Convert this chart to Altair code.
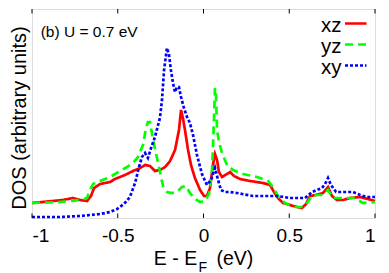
import altair as alt
import pandas as pd

# Energy (eV) and DOS (arbitrary units)
XZ_E = [-1.0, -0.819, -0.761, -0.72, -0.679, -0.656, -0.638, -0.603, -0.545, -0.516, -0.458, -0.411,
        -0.37, -0.341, -0.312, -0.283, -0.254, -0.224, -0.195, -0.166, -0.143, -0.131, -0.12, -0.108,
        -0.09, -0.073, -0.05, -0.02, 0.003, 0.02, 0.038, 0.055, 0.067, 0.079, 0.09, 0.108, 0.137,
        0.155, 0.178, 0.213, 0.271, 0.347, 0.388, 0.411, 0.434, 0.464, 0.504, 0.545, 0.574, 0.598,
        0.621, 0.656, 0.697, 0.726, 0.749, 0.778, 0.813, 0.854, 0.913, 0.959, 1.0]
XZ_D = [15, 18, 20, 18, 17, 22, 30, 34, 36, 39, 43, 47,
        50, 53, 52, 47, 48, 51, 57, 68, 88, 108, 100, 88,
        68, 53, 40, 28, 22, 22, 30, 53, 64, 58, 46, 41, 44,
        46, 42, 39, 37, 35, 33, 26, 20, 15, 13, 11, 10, 14,
        22, 23, 25, 31, 22, 18, 18, 20, 21, 19, 17]

YZ_E = [-1.0, -0.837, -0.72, -0.679, -0.662, -0.644, -0.603, -0.545, -0.487, -0.446, -0.411, -0.382,
        -0.353, -0.335, -0.324, -0.312, -0.294, -0.265, -0.236, -0.213, -0.184, -0.155, -0.125,
        -0.102, -0.079, -0.05, -0.02, 0.009, 0.032, 0.05, 0.061, 0.067, 0.073, 0.079, 0.09, 0.108,
        0.137, 0.172, 0.23, 0.312, 0.376, 0.405, 0.434, 0.475, 0.534, 0.58, 0.609, 0.633, 0.697,
        0.726, 0.755, 0.825, 0.883, 0.93, 1.0]
YZ_D = [15, 16, 18, 20, 28, 34, 37, 41, 47, 51, 55, 61,
        73, 90, 96, 96, 78, 55, 32, 26, 25, 26, 31,
        32, 25, 19, 16, 17, 24, 48, 98, 130, 123, 88, 76, 65,
        53, 48, 44, 41, 37, 31, 22, 15, 11, 11, 16, 23, 23,
        28, 20, 20, 20, 15, 16]

XY_E = [-1.0, -0.837, -0.72, -0.603, -0.545, -0.504, -0.464, -0.429, -0.399, -0.376, -0.359, -0.341,
        -0.324, -0.306, -0.283, -0.265, -0.254, -0.242, -0.23, -0.213, -0.201, -0.19, -0.178, -0.166,
        -0.155, -0.143, -0.131, -0.114, -0.096, -0.079, -0.061, -0.038, -0.009, 0.02, 0.044, 0.067,
        0.085, 0.102, 0.125, 0.155, 0.195, 0.289, 0.429, 0.504, 0.592, 0.633, 0.691, 0.709, 0.726,
        0.743, 0.773, 0.837, 0.872, 0.913, 0.954, 1.0]
XY_D = [1, 1, 2, 4, 6, 9, 14, 21, 35, 51, 61, 65,
        60, 70, 81, 93, 100, 118, 148, 170, 163, 148, 135, 126,
        131, 131, 121, 110, 101, 95, 83, 63, 44, 33, 38, 50,
        38, 28, 26, 26, 25, 22, 22, 20, 20, 26, 30, 34, 40,
        33, 26, 26, 26, 23, 21, 21]

SERIES = ["xz", "yz", "xy"]
COLORS = ["#ff0000", "#00ff00", "#0000ff"]
DASHES = [[1, 0], [8, 5], [3, 2]]
XTICKS = [-1, -0.5, 0, 0.5, 1]

frames = []
for name, es, ds in zip(SERIES, [XZ_E, YZ_E, XY_E], [XZ_D, YZ_D, XY_D]):
    frames.append(pd.DataFrame({"E": es, "DOS": ds, "orbital": name}))
df = pd.concat(frames, ignore_index=True)

W, H = 343, 209
FONT = "Liberation Sans"

xscale = alt.Scale(domain=[-1, 1], nice=False, zero=False)
yscale = alt.Scale(domain=[0, 209], nice=False, zero=False)

base = alt.Chart(df)

layers = []
for i, name in enumerate(SERIES):
    layers.append(
        base.transform_filter(alt.datum.orbital == name)
        .mark_line(color=COLORS[i], strokeDash=DASHES[i], strokeWidth=2.7, strokeCap="butt",
                   interpolate="linear")
        .encode(
            x=alt.X("E:Q", scale=xscale,
                    axis=alt.Axis(values=XTICKS, tickSize=0, domain=False, grid=False,
                                  labelFontSize=19, labelPadding=8, labelColor="black",
                                  labelFont=FONT,
                                  labelExpr="(datum.value < 0 ? '-' : '') + format(abs(datum.value), '~g')",
                                  title=None)),
            y=alt.Y("DOS:Q", scale=yscale,
                    axis=alt.Axis(labels=False, ticks=False, domain=False, grid=False,
                                  title="DOS (arbitrary units)", titleFontSize=20,
                                  titleFont=FONT, titleFontWeight="normal", titleColor="black",
                                  titleAngle=270, titleX=-7, titleY=108.5,
                                  titleAlign="center", titleBaseline="alphabetic")),
        )
    )

ticks_df = pd.DataFrame({"t": XTICKS})
tick_bottom = alt.Chart(ticks_df).mark_rule(color="black", strokeWidth=1).encode(
    x=alt.X("t:Q", scale=xscale), y=alt.value(H), y2=alt.value(H - 4.5))
tick_top = alt.Chart(ticks_df).mark_rule(color="black", strokeWidth=1).encode(
    x=alt.X("t:Q", scale=xscale), y=alt.value(0), y2=alt.value(4.5))

# legend (text left of the line sample)
LEG_Y = [14.5, 35.5, 56.5]
leg_layers = []
for i, name in enumerate(SERIES):
    d = pd.DataFrame({"label": [name]})
    leg_layers.append(
        alt.Chart(d).mark_text(align="right", baseline="alphabetic", fontSize=20.5, font=FONT,
                               color="black")
        .encode(text="label:N", x=alt.value(309.5), y=alt.value(LEG_Y[i] + 8))
    )
    leg_layers.append(
        alt.Chart(d).mark_rule(color=COLORS[i], strokeDash=DASHES[i], strokeWidth=2.7,
                               strokeCap="butt")
        .encode(x=alt.value(313), x2=alt.value(334.5), y=alt.value(LEG_Y[i]))
    )

ann = alt.Chart(pd.DataFrame({"t": ["(b) U = 0.7 eV"]})).mark_text(
    align="left", baseline="alphabetic", fontSize=15.5, font=FONT, color="black"
).encode(text="t:N", x=alt.value(8.7), y=alt.value(27.7))

# x-axis title with subscript F
t1 = alt.Chart(pd.DataFrame({"t": ["E - E"]})).mark_text(
    align="center", baseline="alphabetic", fontSize=19.5, font=FONT, color="black"
).encode(text="t:N", x=alt.value(143.5), y=alt.value(256))
t2 = alt.Chart(pd.DataFrame({"t": ["F"]})).mark_text(
    align="left", baseline="alphabetic", fontSize=14, font=FONT, color="black"
).encode(text="t:N", x=alt.value(166.5), y=alt.value(262.5))
t3 = alt.Chart(pd.DataFrame({"t": ["(eV)"]})).mark_text(
    align="left", baseline="alphabetic", fontSize=19.5, font=FONT, color="black"
).encode(text="t:N", x=alt.value(184.5), y=alt.value(256))

chart = alt.layer(*layers, tick_bottom, tick_top, *leg_layers, ann, t1, t2, t3).properties(
    width=W, height=H,
    autosize=alt.AutoSizeParams(type="none"),
    padding={"left": 24, "top": 1, "right": 6, "bottom": 56},
).configure_view(stroke="black", strokeWidth=1).configure(background="white")

chart.save("out.html", embed_options={"renderer": "svg", "actions": False})
